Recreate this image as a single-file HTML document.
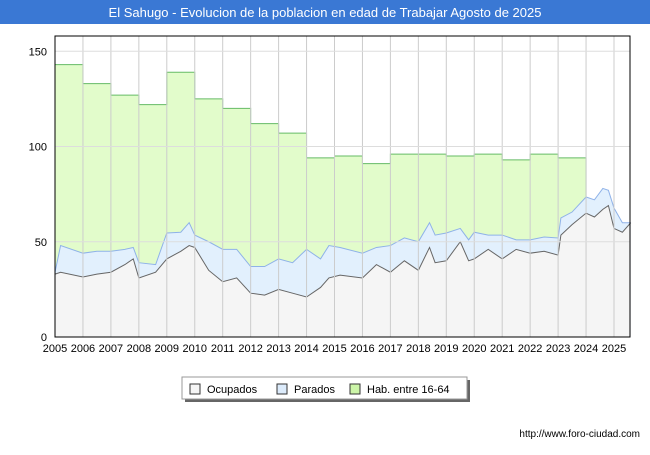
<!DOCTYPE html><html><head><meta charset="utf-8"><style>
body{margin:0;width:650px;height:450px;background:#fff;font-family:"Liberation Sans",sans-serif;overflow:hidden}
</style></head><body>
<svg width="650" height="450" xmlns="http://www.w3.org/2000/svg">
<rect x="0" y="0" width="650" height="24" fill="#3a78d4"/>
<text x="325" y="17" text-anchor="middle" fill="#fff" font-size="13">El Sahugo - Evolucion de la poblacion en edad de Trabajar Agosto de 2025</text>
<g id="plot"></g>
<g>
<rect x="185" y="380" width="285" height="22" fill="#666"/>
<rect x="182" y="377" width="285" height="22" fill="#fff" stroke="#999"/>
<rect x="190" y="384" width="10" height="10" fill="#f5f5f5" stroke="#333"/>
<text x="207" y="393" font-size="11">Ocupados</text>
<rect x="277" y="384" width="10" height="10" fill="#dcebfb" stroke="#333"/>
<text x="294" y="393" font-size="11">Parados</text>
<rect x="350" y="384" width="10" height="10" fill="#ccf5a8" stroke="#333"/>
<text x="367" y="393" font-size="11">Hab. entre 16-64</text>
</g>
<text x="640" y="437" text-anchor="end" font-size="10">http://www.foro-ciudad.com</text>
</svg>
<script>
const years=[2005,2006,2007,2008,2009,2010,2011,2012,2013,2014,2015,2016,2017,2018,2019,2020,2021,2022,2023];
const habValues=[143,133,127,122,139,125,120,112,107,94,95,91,96,96,95,96,93,96,94];
const times=[2005,2005.2,2006,2006.5,2007,2007.5,2007.8,2008,2008.6,2009,2009.5,2009.8,2010,2010.5,2011,2011.5,2012,2012.5,2013,2013.5,2014,2014.5,2014.8,2015.2,2016,2016.5,2017,2017.5,2018,2018.4,2018.6,2019,2019.5,2019.8,2020,2020.5,2021,2021.5,2022,2022.5,2023,2023.1,2023.5,2024,2024.3,2024.6,2024.8,2025,2025.3,2025.6];
const ocupados=[33,34,31.5,33,34,38,41,31,34,41,45,48,47,35,29,31,23,22,25,23,21,26,31,32.5,31,38,34,40,35,47,39,40,50,40,41,46,41,46,44,45,43,53.5,59,65,63,67,69,57,55,60];
const parados=[34,48,44,45,45,46,47,39,38,54.6,55,60,53.5,50,46,46,37,37,41,39,46,41,48,47,44,47,48,52,50,60,53.5,54.6,57,51,55,53.5,53.5,51,51,52.5,52,62.5,65.6,73.5,72,78,77,67.7,60,60];
const yTicks=[0,50,100,150];
const L=55,R=630,T=36,B=337;
const X=t=>L+(t-2005)*27.95, Y=v=>B-v*1.905;
const ns="http://www.w3.org/2000/svg", g=document.getElementById('plot');
function mk(tag,a){const e=document.createElementNS(ns,tag);for(const k in a)e.setAttribute(k,a[k]);g.appendChild(e);return e;}
const bg=mk('rect',{x:L,y:T,width:R-L,height:B-T,fill:'#fff'});

// hab step area
let hp=[];years.forEach((y,i)=>{hp.push([X(y),Y(habValues[i])]);hp.push([X(y+1),Y(habValues[i])]);});
const lastT=2024;const iLast=times.indexOf(lastT);
hp.push([X(lastT),Y(parados[iLast])]);
const habD='M'+X(2005)+','+B+' '+hp.map(p=>'L'+p.join(',')).join(' ')+' L'+X(lastT)+','+B+'Z';
const ha=mk('path',{d:habD,fill:'#e2fccb',stroke:'none'});

const hl=mk('path',{d:'M'+hp.map(p=>p.join(',')).join(' L'),fill:'none',stroke:'#66bb66','stroke-width':1});

function area(vals,fill,stroke,name){
 const pts=times.map((t,i)=>X(t)+','+Y(vals[i]));
 const a=mk('path',{d:'M'+X(times[0])+','+B+' L'+pts.join(' L')+' L'+X(times[times.length-1])+','+B+'Z',fill:fill});
 
 const l=mk('path',{d:'M'+pts.join(' L'),fill:'none',stroke:stroke,'stroke-width':1});
 
}
area(parados,'#e2f0fd','#8fb2e8','parados');
area(ocupados,'#f5f5f5','#666','ocupados');
// grid
for(let y=2005;y<=2025;y++){const gl=mk('line',{x1:X(y),x2:X(y),y1:T,y2:B,stroke:'#ccc'});

const tx=mk('text',{x:X(y),y:B+15,'text-anchor':'middle','font-size':11});tx.textContent=y;
}
yTicks.forEach(v=>{const gl=mk('line',{x1:L,x2:R,y1:Y(v),y2:Y(v),stroke:'#ddd'});

const tx=mk('text',{x:L-8,y:Y(v)+4,'text-anchor':'end','font-size':11});tx.textContent=v;
});
const fr=mk('rect',{x:L,y:T,width:R-L,height:B-T,fill:'none',stroke:'#000'});

</script></body></html>
